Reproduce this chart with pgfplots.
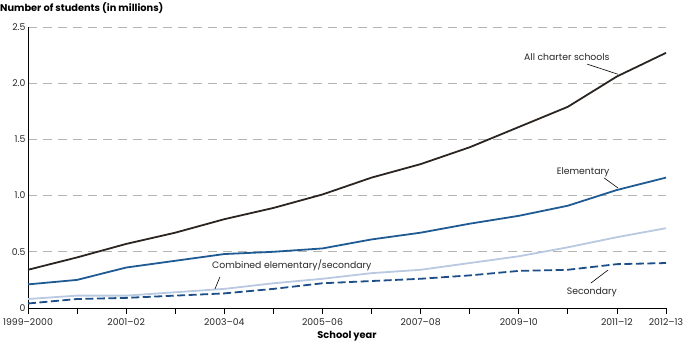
\documentclass[border=0pt]{standalone}
\usepackage{pgfplots}
\pgfplotsset{compat=1.18}
\usepackage{fontspec}
\setmainfont{Poppins}
\definecolor{charter}{HTML}{2B2522}
\definecolor{elem}{HTML}{1F5A93}
\definecolor{comb}{HTML}{B9C9E1}
\definecolor{sec}{HTML}{1D4E87}
\definecolor{gridc}{HTML}{B5B5B0}
\begin{document}
\begin{tikzpicture}
\useasboundingbox (-28pt,-44pt) rectangle (657pt,308pt);
\begin{axis}[
  at={(0,0)}, anchor=south west,
  scale only axis, width=638pt, height=281pt,
  xmin=0, xmax=13, ymin=0, ymax=2.5,
  clip=false,
  axis x line*=bottom, axis y line*=left,
  axis line style={black, line width=0.8pt},
  x axis line style={-}, y axis line style={-},
  xtick={0,...,13},
  xticklabels={1999--2000,,2001--02,,2003--04,,2005--06,,2007--08,,2009--10,,2011--12,2012--13},
  ytick={0.5,1,1.5,2,2.5},
  extra y ticks={0}, extra y tick labels={0},
  extra y tick style={grid=none},
  yticklabels={0.5,1.0,1.5,2.0,2.5},
  x tick style={black, line width=0.8pt},
  xtick align=outside, major tick length=6pt,
  y tick style={draw=none},
  ymajorgrids=true,
  grid style={gridc, line width=0.8pt, dash pattern=on 9pt off 6pt},
  tick label style={font=\fontsize{9.3}{11}\selectfont, text=black!85},
  /pgf/number format/assume math mode=true,
  xticklabel style={yshift=-1pt},
  yticklabel style={xshift=1pt},
]
\addplot[charter, line width=1.8pt] coordinates {
(0,0.34) (1,0.45) (2,0.57) (3,0.67) (4,0.79) (5,0.89) (6,1.01) (7,1.16) (8,1.28) (9,1.43) (10,1.61) (11,1.79) (12,2.06) (13,2.27)};
\addplot[elem, line width=1.8pt] coordinates {
(0,0.21) (1,0.25) (2,0.36) (3,0.42) (4,0.48) (5,0.50) (6,0.53) (7,0.61) (8,0.67) (9,0.75) (10,0.82) (11,0.91) (12,1.05) (13,1.16)};
\addplot[comb, line width=1.8pt] coordinates {
(0,0.08) (1,0.11) (2,0.11) (3,0.14) (4,0.17) (5,0.22) (6,0.26) (7,0.31) (8,0.34) (9,0.40) (10,0.46) (11,0.54) (12,0.63) (13,0.71)};
\addplot[sec, line width=1.8pt, dash pattern=on 8pt off 3.5pt] coordinates {
(0,0.04) (1,0.08) (2,0.09) (3,0.11) (4,0.13) (5,0.17) (6,0.22) (7,0.24) (8,0.26) (9,0.29) (10,0.33) (11,0.34) (12,0.39) (13,0.40)};
\node[font=\fontsize{9.3}{11}\selectfont, text=black!85] at (axis cs:10.98,2.23) {All charter schools};
\draw[black, line width=0.6pt] (axis cs:11.39,2.17) -- (axis cs:12.02,2.08);
\node[font=\fontsize{9.3}{11}\selectfont, text=black!85] at (axis cs:11.31,1.21) {Elementary};
\draw[black, line width=0.6pt] (axis cs:11.74,1.157) -- (axis cs:12.02,1.068);
\node[font=\fontsize{9.3}{11}\selectfont, text=black!85, anchor=west, inner sep=0pt] at (axis cs:3.75,0.383) {Combined elementary/secondary};
\draw[black, line width=0.6pt] (axis cs:3.91,0.276) -- (axis cs:3.81,0.169);
\node[font=\fontsize{9.3}{11}\selectfont, text=black!85] at (axis cs:11.49,0.142) {Secondary};
\draw[black, line width=0.6pt] (axis cs:11.47,0.222) -- (axis cs:11.82,0.338);
\node[font=\bfseries\fontsize{9.8}{11}\selectfont, anchor=west, inner sep=0pt] at (axis cs:0,2.5) [xshift=-28pt, yshift=19pt] {Number of students (in millions)};
\node[font=\bfseries\fontsize{9.8}{11}\selectfont, inner sep=0pt] at (axis cs:6.5,0) [yshift=-28pt] {School year};
\end{axis}
\end{tikzpicture}
\end{document}
